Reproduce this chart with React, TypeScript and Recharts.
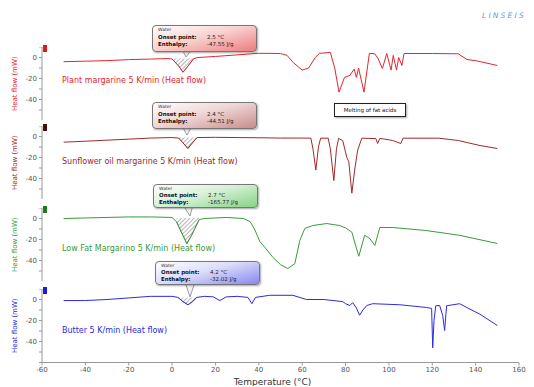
import React from "react";
import { ComposedChart, Line, Area, XAxis, YAxis } from "recharts";

// DSC curves, [temperature °C, heat flow mW]
const plantMargarine: [number, number][] = [
  [-50, -4], [-40, -3.5], [-30, -3], [-20, -2], [-10, -1.5], [-2, -1], [0, -1.5], [3, -8], [5, -14], [7, -9],
  [10, -1], [12, 0], [20, 1], [30, 2.5], [40, 4], [50, 3.8], [53, 2], [56, -5], [60, -12], [63, -10], [66, 0],
  [68, 4], [73, 4.8], [75, -10], [77, -33], [79.5, -19], [82, -17], [84, -11], [85, -19], [86, -10], [88.5, -33],
  [91, 4], [93.5, 3.5], [95, -1], [97, -10.5], [99, 3.8], [101, -12], [102, 2], [103.5, -12], [104.5, 0],
  [106, -7.6], [107, 3.8], [120, 3.8], [132, 3.5], [136, -1.9], [140, -3], [150, -7.6],
];
const sunflowerMargarine: [number, number][] = [
  [-50, -5.4], [-40, -4.5], [-30, -3.5], [-20, -2.5], [-10, -1.5], [0, -1], [3, -1.5], [5, -6], [7.3, -11.4],
  [9, -7], [11.5, -1], [20, -0.8], [30, -1], [40, -1.2], [50, -1.5], [60, -1.5], [64, -1.6], [65, -12],
  [66.3, -32], [67.5, -10], [68.5, -1.6], [72, -1.6], [73, -12], [74.6, -42], [75.8, -12], [76.8, -1.8],
  [78.7, -4], [80.6, -20], [81.5, -24], [82.9, -54], [84.2, -32], [85.6, -13], [87.5, -1.6], [94, -2],
  [94.8, -6.7], [95.8, -1.8], [101.8, -3.8], [105.5, -6.7], [106.5, -1.6], [123, -1.6], [132, -3.8],
  [142, -8.6], [150, -11.4],
];
const lowFatMargarine: [number, number][] = [
  [-50, 0], [-40, 0.5], [-30, 1], [-20, 1.5], [-10, 1.5], [0, 1], [2, -3], [4.5, -14], [6.8, -24], [9, -16],
  [12.5, -1], [15, 0], [25, 1], [33, 0], [36, -3], [38, -10], [40.5, -22], [43, -28], [46.5, -37], [50, -44],
  [53.4, -47.6], [56.6, -43], [58.9, -21], [61.2, -9.5], [64.9, -6.7], [71.3, -4.8], [77.3, -6.7], [80, -9],
  [82.9, -13], [86.1, -36], [88.8, -16], [91.2, -19], [93.5, -25.7], [95.8, -8.6], [101.8, -8.6],
  [117, -11.4], [132.6, -16], [150, -23.8],
];
const butter: [number, number][] = [
  [-50, -1], [-40, -1], [-30, 0], [-20, 1.5], [-10, 3], [0, 3], [2.7, 2], [5, -2], [7.3, -5], [9.5, -2],
  [11.4, 2], [15, 3], [19, 2.5], [22, -1], [25, 2.5], [30, 3], [35, 2], [36.8, -4], [38.5, 2], [45, 4],
  [55.7, 4], [62, 0], [70, 0], [78.7, -2], [80, -4], [82, -5.7], [83.3, -3], [85, -8], [86.5, -15], [88, -10],
  [89.8, -5.7], [92.5, -4], [105, -5], [117.4, -7.6], [119.7, -8.5], [120.2, -46], [120.8, -20], [121.6, -6],
  [123.4, -5.7], [124.8, -15], [125.7, -29.5], [126.6, -6], [132.6, -4], [135.9, -7.6], [142, -14], [150, -24.8],
];

const seriesNames = [
  "Plant margarine 5 K/min  (Heat flow)",
  "Sunflower oil margarine 5 K/min  (Heat flow)",
  "Low Fat Margarino 5 K/min  (Heat flow)",
  "Butter 5 K/min  (Heat flow)",
];
const waterOnset = ["2.5 °C", "2.4 °C", "2.7 °C", "4.2 °C"];
const waterEnthalpy = ["-47.55 J/g", "-44.51 J/g", "-165.77 J/g", "-32.02 J/g"];
// water melting peak integration limits and baseline
const waterRange: [number, number][] = [[0, 10.5], [3, 11.5], [1.5, 13], [2.7, 11.4]];
const waterBase = [-1, -1, 0.5, 2];

const temperatureTicks = [-60, -40, -20, 0, 20, 40, 60, 80, 100, 120, 140, 160];
const heatFlowTicks = [10, 0, -10, -20, -30, -40, -50, -60];
const heatFlowLabels = [0, -20, -40];

const PLOT_H = 73.5;
const FONT = "'DejaVu Sans', Verdana, sans-serif";

const panels = [
  { data: plantMargarine, color: "#e3262c", marker: "#e01818", top: 46.5, nameY: 76, box: { left: 152, top: 25, h: 25, tipX: 186, tipY: 57 }, grad: "linear-gradient(165deg,#ffffff 0%,#f9d2d2 45%,#ee7d7d 100%)" },
  { data: sunflowerMargarine, color: "#9e2a2a", marker: "#4a0c0c", top: 125.5, nameY: 157, box: { left: 152, top: 102, h: 25, tipX: 187, tipY: 135 }, grad: "linear-gradient(165deg,#ffffff 0%,#efd6d6 45%,#c98c8c 100%)" },
  { data: lowFatMargarine, color: "#3b9a3b", marker: "#1d7a1d", top: 207.5, nameY: 244, box: { left: 153, top: 184, h: 22, tipX: 190, tipY: 216 }, grad: "linear-gradient(165deg,#ffffff 0%,#d6f1d6 45%,#86d386 100%)" },
  { data: butter, color: "#2b2be0", marker: "#1a1ae0", top: 288.5, nameY: 326, box: { left: 155, top: 261, h: 22, tipX: 190, tipY: 297 }, grad: "linear-gradient(165deg,#ffffff 0%,#dcdcfb 45%,#8888ef 100%)" },
];

function Panel({ index, showX }: { index: number; showX: boolean }) {
  const p = panels[index];
  const [a, b] = waterRange[index];
  const rows = p.data.map(([t, v]) => ({ t, v, h: t >= a && t <= b ? v : null }));
  const hatchId = `hatch${index}`;
  return (
    <div style={{ position: "absolute", left: 0, top: p.top }}>
      <ComposedChart
        width={534}
        height={showX ? PLOT_H + 24 : PLOT_H}
        data={rows}
        margin={{ top: 0, right: 15, bottom: 0, left: 12 }}
      >
        <defs>
          <pattern id={hatchId} patternUnits="userSpaceOnUse" width="3" height="3" patternTransform="rotate(45)">
            <line x1="0" y1="0" x2="0" y2="3" stroke="#444" strokeWidth="0.8" />
          </pattern>
        </defs>
        <XAxis
          type="number"
          dataKey="t"
          domain={[-60, 160]}
          ticks={temperatureTicks}
          hide={!showX}
          height={24}
          stroke="#999"
          tickSize={3}
          tick={{ fontSize: 7, fill: "#555", fontFamily: FONT }}
          label={{ value: "Temperature (°C)", position: "insideBottom", offset: 2, dx: -8, fill: "#333", fontSize: 9, fontFamily: FONT }}
        />
        <YAxis
          type="number"
          domain={[-60, 10]}
          ticks={heatFlowTicks}
          width={30}
          stroke="#999"
          tickSize={3}
          interval={0}
          tickFormatter={(v: number) => (heatFlowLabels.includes(v) ? String(v) : "")}
          tick={{ fontSize: 7, fill: "#555", fontFamily: FONT }}
          label={{ value: "Heat flow (mW)", angle: -90, position: "insideLeft", offset: 3, style: { textAnchor: "middle", fill: p.color, fontSize: 7, fontFamily: FONT } }}
        />
        <Area
          type="linear"
          dataKey="h"
          baseValue={waterBase[index]}
          fill={`url(#${hatchId})`}
          fillOpacity={1}
          stroke="#555"
          strokeWidth={0.5}
          connectNulls={false}
          isAnimationActive={false}
        />
        <Line type="linear" dataKey="v" stroke={p.color} strokeWidth={1} dot={false} isAnimationActive={false} />
      </ComposedChart>
      <div style={{ position: "absolute", left: 43, top: -2, width: 4, height: 7, background: p.marker }} />
    </div>
  );
}

function Callout({ index }: { index: number }) {
  const p = panels[index];
  const bx = p.box;
  const line: React.CSSProperties = { position: "absolute", left: 5, fontSize: 5.5, fontWeight: "bold", color: "#111", whiteSpace: "nowrap" };
  const val: React.CSSProperties = { position: "absolute", left: 54, fontSize: 5.5, color: "#222", whiteSpace: "nowrap" };
  return (
    <>
      <svg style={{ position: "absolute", left: 0, top: 0 }} width={534} height={387}>
        <polygon
          points={`${bx.left + 30},${bx.top + bx.h - 1} ${bx.left + 40},${bx.top + bx.h - 1} ${bx.tipX},${bx.tipY}`}
          fill="#f4f4f4"
          stroke="#777"
          strokeWidth={0.7}
        />
      </svg>
      <div
        style={{
          position: "absolute",
          left: bx.left,
          top: bx.top,
          width: 103,
          height: bx.h,
          borderRadius: 4,
          border: "1px solid #777",
          background: p.grad,
          boxShadow: "1px 1px 2px rgba(0,0,0,0.35)",
          fontFamily: FONT,
        }}
      >
        <div style={{ position: "absolute", left: 5, top: 1, fontSize: 4.5, color: "#333" }}>Water</div>
        <div style={{ ...line, top: bx.h > 23 ? 8 : 7 }}>Onset point:</div>
        <div style={{ ...val, top: bx.h > 23 ? 8 : 7 }}>{waterOnset[index]}</div>
        <div style={{ ...line, top: bx.h > 23 ? 15 : 13.5 }}>Enthalpy:</div>
        <div style={{ ...val, top: bx.h > 23 ? 15 : 13.5 }}>{waterEnthalpy[index]}</div>
      </div>
    </>
  );
}

export default function App() {
  return (
    <div style={{ position: "absolute", left: 0, top: 0, width: 534, height: 387, overflow: "hidden", background: "#fff", fontFamily: FONT }}>
      {panels.map((p, i) => (
        <Panel key={i} index={i} showX={i === panels.length - 1} />
      ))}
      {panels.map((p, i) => (
        <div key={"n" + i} style={{ position: "absolute", left: 62, top: p.nameY, fontSize: 8, color: p.color, whiteSpace: "nowrap" }}>
          {seriesNames[i]}
        </div>
      ))}
      {panels.map((p, i) => (
        <Callout key={"c" + i} index={i} />
      ))}
      <div
        style={{
          position: "absolute",
          left: 334,
          top: 103,
          width: 70,
          height: 12,
          border: "1px solid #222",
          background: "#fff",
          boxShadow: "1px 1px 2px rgba(0,0,0,0.35)",
          fontSize: 5.5,
          lineHeight: "12px",
          textAlign: "center",
          color: "#111",
        }}
      >
        Melting of fat  acids
      </div>
      <div style={{ position: "absolute", left: 482, top: 11, fontSize: 7.5, fontStyle: "italic", letterSpacing: 2.2, color: "#5a9bd8", whiteSpace: "nowrap" }}>
        LINSEIS
      </div>
    </div>
  );
}
